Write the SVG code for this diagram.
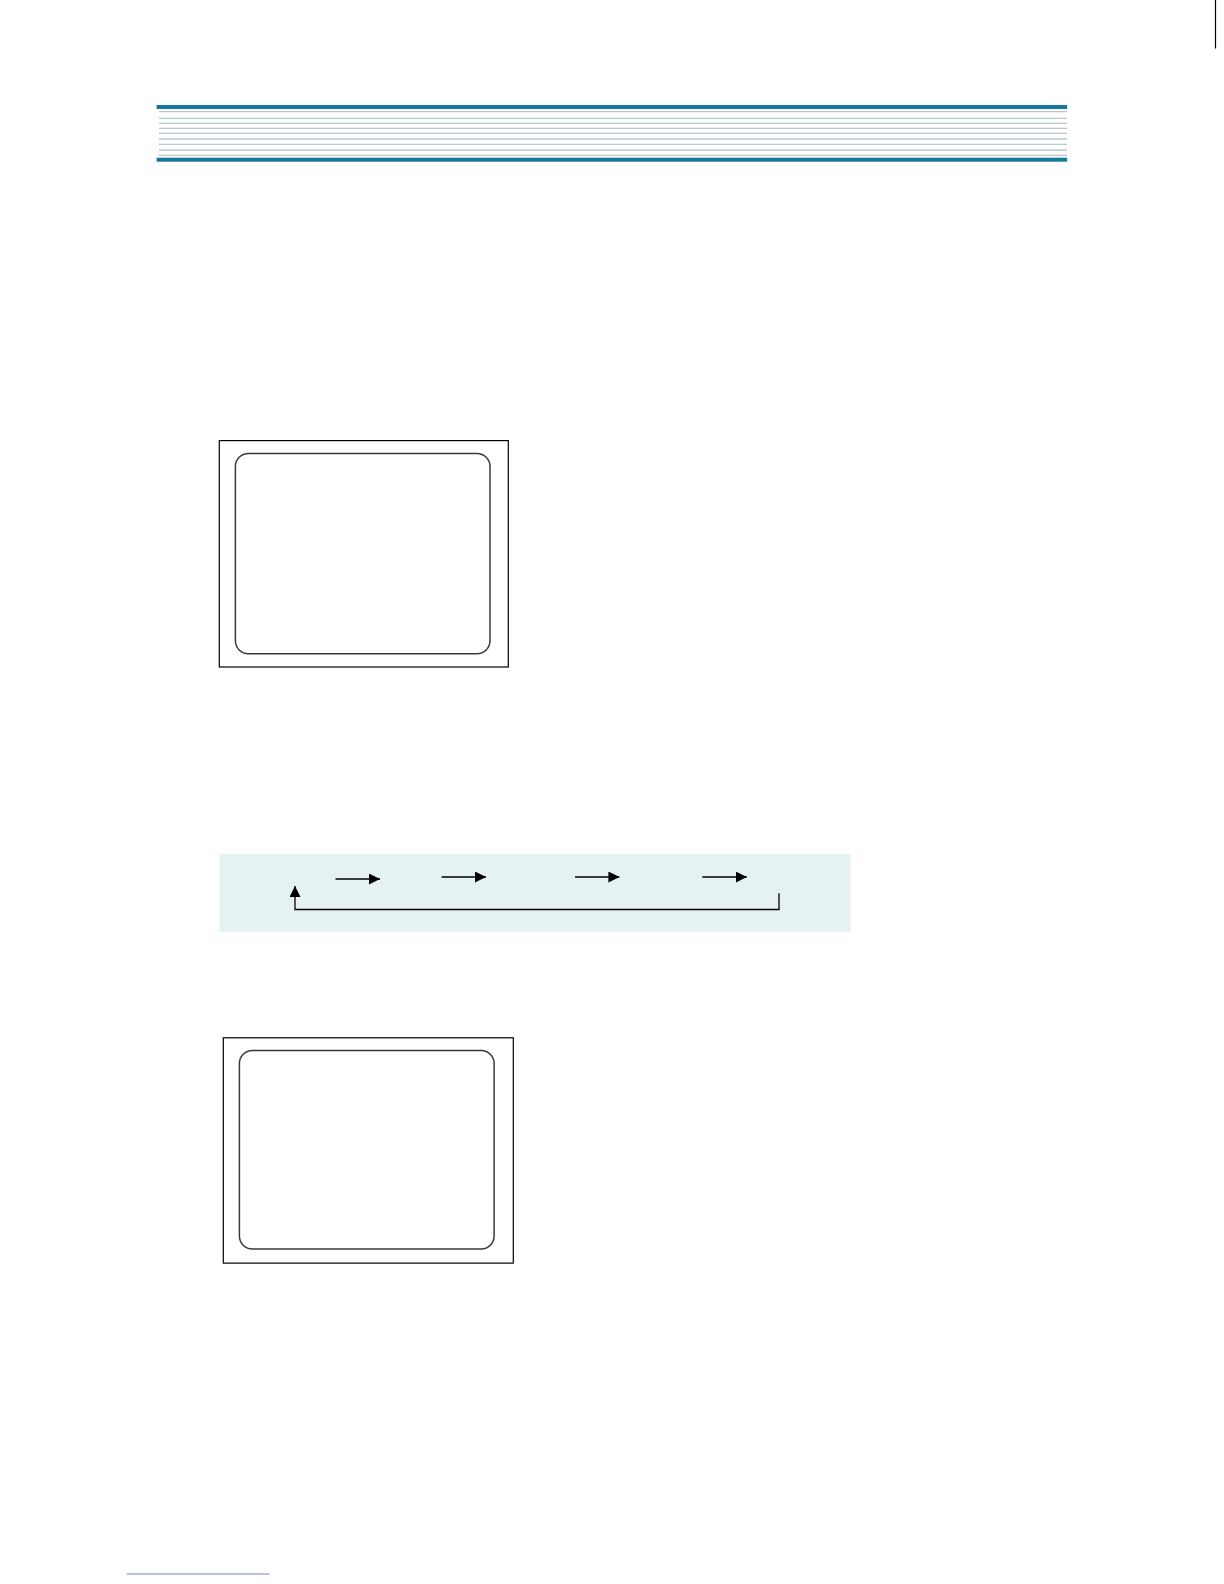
<svg xmlns="http://www.w3.org/2000/svg" width="1224" height="1584" viewBox="0 0 1224 1584">
<style>
.bar{fill:#13799a}
.thin{stroke:#b9c7cf;stroke-width:1.3}
.outer{fill:#fff;stroke:#000;stroke-width:1.2}
.inner{fill:#fff;stroke:#3a3a3a;stroke-width:1.5}
.conn{stroke:#000;stroke-width:1.3;fill:none}
</style>
<defs>
<marker id="ah" viewBox="0 0 10 10" refX="10" refY="5" markerWidth="11" markerHeight="11" markerUnits="userSpaceOnUse" orient="auto">
<path d="M0,0 L10,5 L0,10 z" fill="#000"/>
</marker>
</defs>
<rect width="1224" height="1584" fill="#fff"/>
<line x1="1215.5" y1="0" x2="1215.5" y2="48.5" stroke="#000" stroke-width="1.2"/>
<g id="header">
<rect class="bar" x="156.6" y="105" width="910.5" height="4"/>
<g class="thin">
<line x1="159" y1="111.7" x2="1067" y2="111.7"/>
<line x1="159" y1="118.3" x2="1067" y2="118.3"/>
<line x1="159" y1="123.3" x2="1067" y2="123.3"/>
<line x1="159" y1="128.3" x2="1067" y2="128.3"/>
<line x1="159" y1="133.3" x2="1067" y2="133.3"/>
<line x1="159" y1="139" x2="1067" y2="139"/>
<line x1="159" y1="144.3" x2="1067" y2="144.3"/>
<line x1="159" y1="150" x2="1067" y2="150"/>
<line x1="159" y1="155.3" x2="1067" y2="155.3"/>
</g>
<rect class="bar" x="156.6" y="157.7" width="910.5" height="4"/>
</g>
<g id="screen1">
<rect class="outer" x="219.3" y="440.6" width="289" height="226.4"/>
<rect class="inner" x="235.4" y="453.5" width="254.6" height="200.3" rx="13"/>
</g>
<g id="band">
<rect x="219.3" y="853.9" width="631.5" height="77.8" fill="#e6f1f4"/>
</g>
<g id="connectors">
<line class="conn" x1="335.5" y1="879" x2="380" y2="879" marker-end="url(#ah)"/>
<line class="conn" x1="441.6" y1="877" x2="486" y2="877" marker-end="url(#ah)"/>
<line class="conn" x1="575" y1="877" x2="619.4" y2="877" marker-end="url(#ah)"/>
<line class="conn" x1="702.3" y1="877" x2="746.8" y2="877" marker-end="url(#ah)"/>
<path class="conn" d="M779,893.3 V909.5 H295 V886" marker-end="url(#ah)"/>
</g>
<g id="screen2">
<rect class="outer" x="223.3" y="1037.8" width="290" height="225.3"/>
<rect class="inner" x="239.4" y="1050.5" width="254.7" height="198.5" rx="13"/>
</g>
<line x1="126.5" y1="1574" x2="269.5" y2="1574" stroke="#7080d8" stroke-width="1"/>
</svg>
